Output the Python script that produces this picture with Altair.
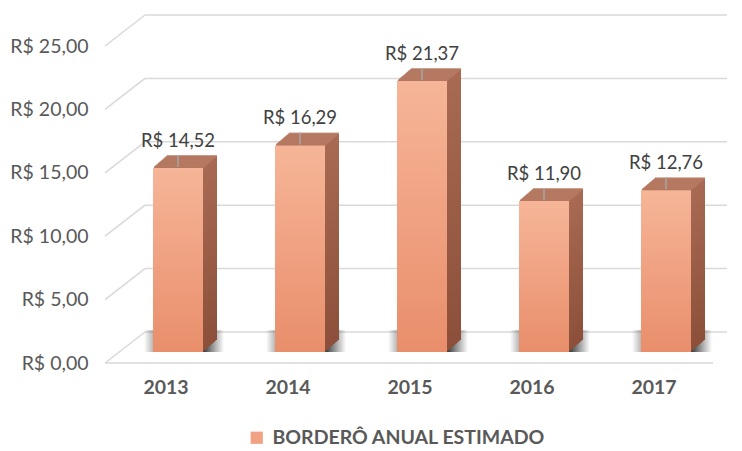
import altair as alt
import pandas as pd

# ---- data ----
years = ["2013", "2014", "2015", "2016", "2017"]
values = [14.52, 16.29, 21.37, 11.90, 12.76]
y_ticks = [0, 5, 10, 15, 20, 25]
series_name = "BORDERÔ ANUAL ESTIMADO"

df = pd.DataFrame({"ano": years, "valor": values, "serie": [series_name] * len(years)})
ticks_df = pd.DataFrame({"t": y_ticks})

# ---- geometry / style ----
W, H = 610, 317
PXU = H / 25.0            # pixels per unit on the y scale
FONT = "Lato"
DEPTH_DX, DEPTH_DY = 14, 12   # bar depth (3D look)
WALL_DX, WALL_DY = 40, 31     # back wall offset
LIFT = -11                    # front face lift above axis baseline
N = 14

x_scale = alt.Scale(domain=years, paddingInner=0.59, paddingOuter=0.295)
y_scale = alt.Scale(domain=[0, 25], nice=False, zero=True)

X_AXIS = alt.Axis(labelAngle=0, domain=False, ticks=False, grid=False, labelFont=FONT,
                  labelFontSize=19.5, labelFontWeight="bold", labelColor="#595959",
                  labelPadding=15, labelOffset=-12)
Y_AXIS = alt.Axis(values=y_ticks, grid=False, domain=False, ticks=False,
                  labelExpr="'R$ ' + replace(format(datum.value, '.2f'), '.', ',')",
                  labelFont=FONT, labelFontSize=19.5, labelColor="#595959",
                  labelPadding=29)


def X(field="ano:N"):
    return alt.X(field, scale=x_scale, axis=X_AXIS, title=None)


def Y(field):
    return alt.Y(field, scale=y_scale, axis=Y_AXIS, title=None)


front_grad = alt.Gradient(
    gradient="linear",
    stops=[alt.GradientStop(color="#F6B598", offset=0),
           alt.GradientStop(color="#E98E6B", offset=1)],
    x1=0, x2=0, y1=0, y2=1,
)
side_grad = alt.Gradient(
    gradient="linear",
    stops=[alt.GradientStop(color="#A86A52", offset=0),
           alt.GradientStop(color="#8C4F39", offset=1)],
    x1=0, x2=0, y1=0, y2=1,
)
shadow_grad = alt.Gradient(
    gradient="linear",
    stops=[alt.GradientStop(color="rgba(60,60,60,0)", offset=0),
           alt.GradientStop(color="rgba(40,40,40,0.95)", offset=0.3),
           alt.GradientStop(color="rgba(40,40,40,0.9)", offset=0.75),
           alt.GradientStop(color="rgba(60,60,60,0)", offset=1)],
    x1=0, x2=1, y1=0, y2=0,
)

base_ticks = alt.Chart(ticks_df)

# back wall gridlines
wall = base_ticks.mark_rule(color="#D9D9D9", strokeWidth=1.5, yOffset=-WALL_DY, y2Offset=-WALL_DY).encode(
    y=Y("t:Q"),
    x=alt.value(WALL_DX - 12),
    x2=alt.value(W + 20),
)

diag = base_ticks.transform_calculate(
    t_top=f"datum.t + {WALL_DY / PXU}"
).mark_rule(color="#D9D9D9", strokeWidth=1.5).encode(
    y=Y("t:Q"),
    y2="t_top:Q",
    x=alt.value(-12),
    x2=alt.value(WALL_DX - 12),
)

floor_front = base_ticks.transform_filter("datum.t == 0").mark_rule(color="#D9D9D9", strokeWidth=1.5).encode(
    y=Y("t:Q"),
    x=alt.value(-12),
    x2=alt.value(W - 14),
)

base = alt.Chart(df)

shadow = base.transform_calculate(
    sh=f"{22 / PXU}"
).mark_bar(color=shadow_grad, size=80, xOffset=6, yOffset=LIFT, y2Offset=LIFT).encode(
    x=X(),
    y=Y("sh:Q"),
    y2=alt.datum(0),
)

side_layers = []
top_layers = []
for i in range(N, 0, -1):
    dx = DEPTH_DX * i / N
    dy = LIFT - DEPTH_DY * i / N
    side_layers.append(
        base.mark_bar(color=side_grad, size=50, xOffset=dx, yOffset=dy, y2Offset=dy).encode(x=X(), y=Y("valor:Q"))
    )
    top_layers.append(
        base.mark_tick(color="#B77B62", size=50, thickness=2, orient="horizontal",
                       xOffset=dx, yOffset=dy).encode(x=X(), y=Y("valor:Q"))
    )

front = base.mark_bar(color=front_grad, size=50, yOffset=LIFT, y2Offset=LIFT).encode(x=X(), y=Y("valor:Q"))

leader = base.transform_calculate(
    lead_top=f"datum.valor + {12 / PXU}"
).mark_rule(color="#A6A6A6", strokeWidth=1.5, yOffset=-12, y2Offset=-12).encode(
    x=X(),
    y=Y("valor:Q"),
    y2="lead_top:Q",
)

labels = base.transform_calculate(
    lbl="'R$ ' + replace(format(datum.valor, '.2f'), '.', ',')"
).mark_text(font=FONT, fontSize=18.5, color="#404040", dy=-32, baseline="alphabetic").encode(
    x=X(),
    y=Y("valor:Q"),
    text="lbl:N",
)

legend_layer = base.mark_square(opacity=0).encode(
    x=X(),
    y=Y("valor:Q"),
    color=alt.Color("serie:N", scale=alt.Scale(domain=[series_name], range=["#F0A283"]),
                    legend=alt.Legend(orient="none", legendX=130, legendY=382, title=None,
                                      symbolType="square", symbolSize=150, symbolOpacity=1,
                                      symbolStrokeWidth=0,
                                      labelFont=FONT, labelFontSize=19.5, labelFontWeight="bold",
                                      labelColor="#595959", labelLimit=500, labelOffset=6)),
)

chart = alt.layer(
    wall, diag, floor_front, shadow, *side_layers, *top_layers, front, leader, labels, legend_layer
).properties(
    width=W, height=H,
    autosize=alt.AutoSizeParams(type="none"),
    padding={"left": 109, "top": 38, "right": 0, "bottom": 85},
    background="white",
).configure_view(stroke=None)

chart.save("out.html", embed_options={"renderer": "svg", "actions": False})
